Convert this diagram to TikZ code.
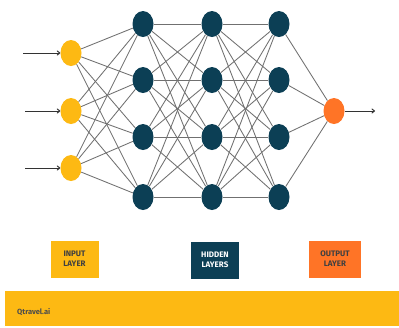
\documentclass[tikz,border=0pt]{standalone}
\usepackage{fontspec}
\setmainfont{Fira Sans}
\usetikzlibrary{shapes.geometric,arrows.meta}
\definecolor{ylw}{HTML}{FDB913}
\definecolor{teal}{HTML}{0C3F55}
\definecolor{orng}{HTML}{FF7426}
\definecolor{edge}{HTML}{707070}
\begin{document}
\begin{tikzpicture}[x=1pt,y=-1pt,
  neuron/.style={ellipse,minimum width=21pt,minimum height=26pt,inner sep=0pt},
  inp/.style={neuron,fill=ylw},
  hid/.style={neuron,fill=teal},
  outn/.style={neuron,fill=orng},
  link/.style={draw=edge,line width=0.85pt},
  arr/.style={draw=black!80,line width=1pt,-{To[length=3.5pt,width=5pt]}},
  legend/.style={minimum width=48pt,minimum height=37pt,inner sep=0pt,align=center,font=\fontsize{8}{10}\selectfont\bfseries}]
\useasboundingbox (0,0) rectangle (399,327);
\fill[white] (0,0) rectangle (399,327);
% nodes
\foreach \i/\y in {1/53,2/111,3/168}{\node[inp] (i\i) at (71,\y) {};}
\foreach \l/\x in {1/143,2/212,3/279}{
  \foreach \j/\y in {1/24,2/80,3/137,4/197}{\node[hid] (h\l\j) at (\x,\y) {};}
}
\node[outn] (o) at (334,111) {};
% edges
\foreach \i in {1,2,3}{\foreach \j in {1,2,3,4}{\draw[link] (i\i) -- (h1\j);}}
\foreach \i in {1,2,3,4}{\foreach \j in {1,2,3,4}{\draw[link] (h1\i) -- (h2\j); \draw[link] (h2\i) -- (h3\j);}}
\foreach \j in {1,2,3,4}{\draw[link] (h3\j) -- (o);}
% arrows
\coordinate (a1) at (23,53);
\coordinate (a2) at (25,111);
\coordinate (a3) at (25,168);
\coordinate (ao) at (375,111);
\foreach \i in {1,2,3}{\draw[arr] (a\i) -- (i\i.west);}
\draw[arr] (o.east) -- (ao);
% legend
\node[legend,fill=ylw,text=black!75] (li) at (74.5,259) {INPUT\\LAYER};
\node[legend,fill=teal,text=white] (lh) at (215,260) {HIDDEN\\LAYERS};
\node[legend,fill=orng,text=black!75,minimum width=52pt] (lo) at (335,259) {OUTPUT\\LAYER};
% footer
\fill[ylw] (5,291) rectangle (399,326);
\node[anchor=west,font=\fontsize{7.5}{9}\selectfont\bfseries,text=black!70,inner sep=0pt] (brand) at (17,312) {Qtravel.ai};
\end{tikzpicture}
\end{document}
